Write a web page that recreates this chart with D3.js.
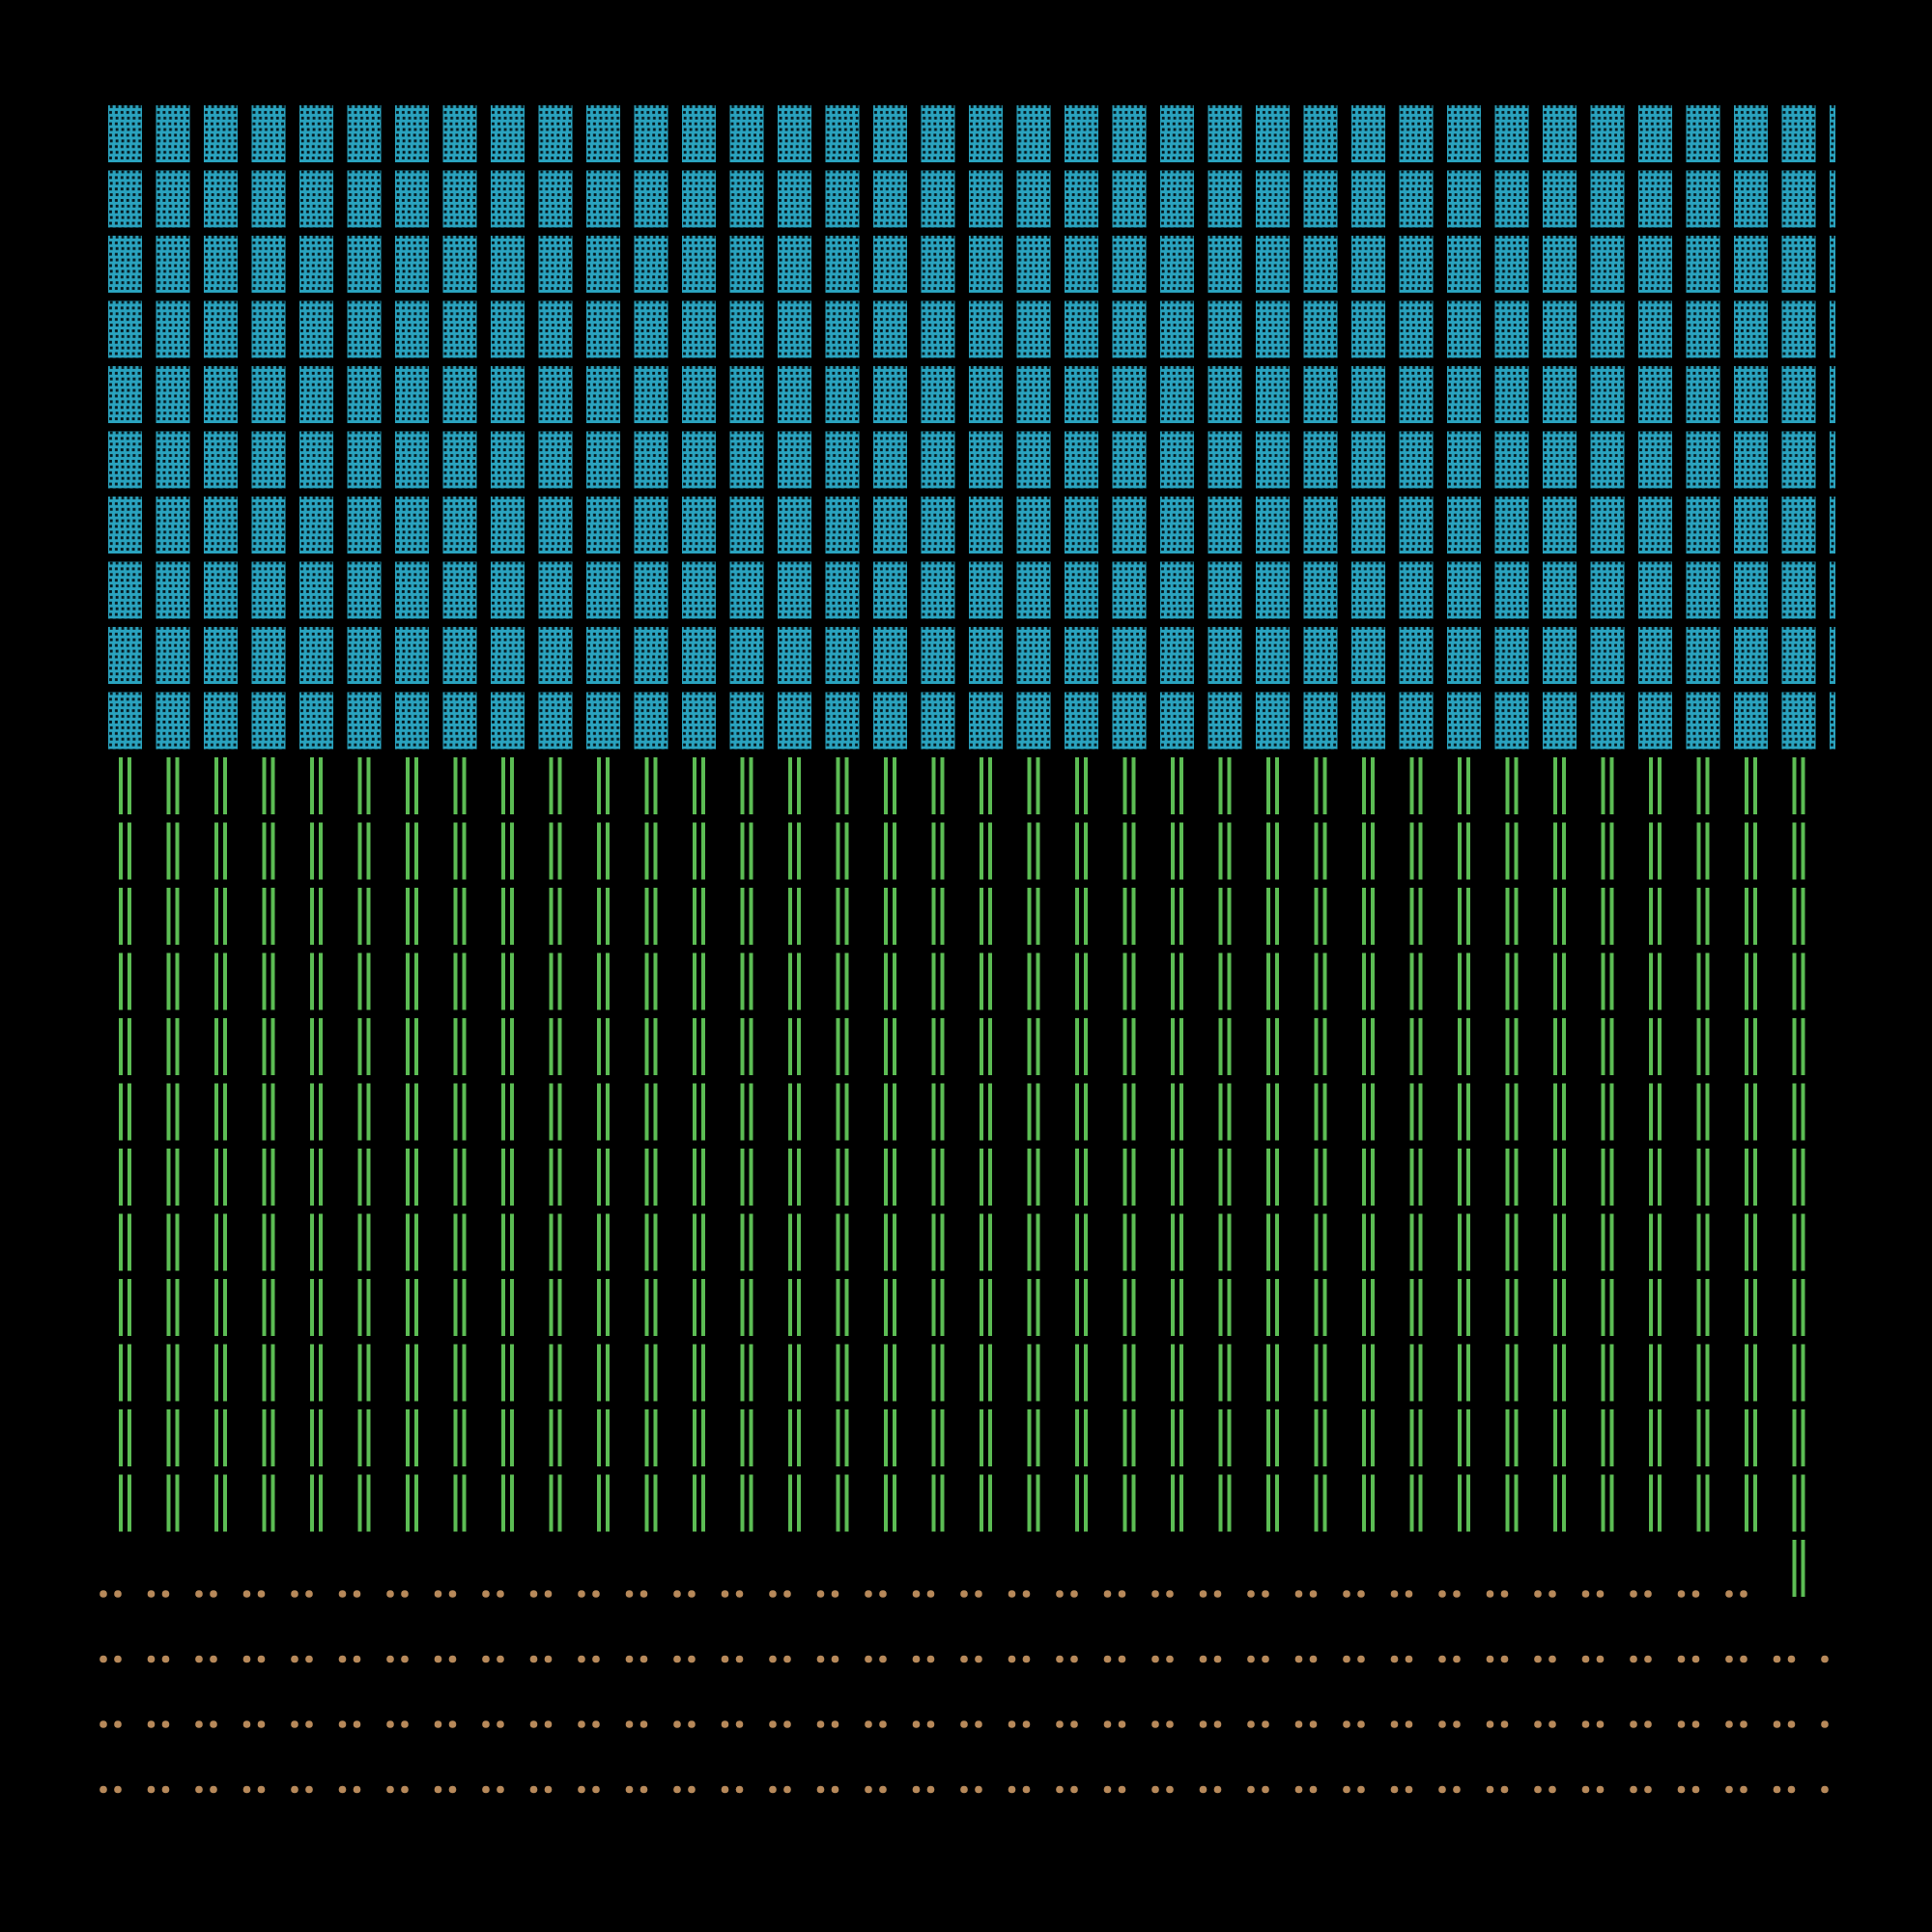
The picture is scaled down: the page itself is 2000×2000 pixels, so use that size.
<!DOCTYPE html>
<html>
<head>
<meta charset="utf-8">
<script src="https://cdn.jsdelivr.net/npm/d3@7"></script>
<style>
  html, body { margin: 0; padding: 0; background: #000; }
  svg { display: block; }
</style>
</head>
<body>
<script>
// ---- data ----
const categories = ["Orange", "Green", "Blue"];   // fill order, from bottom-left, row by row
const values = [146, 446, 370];
const colors = ["#b7895a", "#5cbd54", "#2aa3bf"];
const nCols = 37;
const nRows = 26;

// ---- layout ----
const W = 2000, H = 2000;
const svg = d3.select("body").append("svg").attr("width", W).attr("height", H);
svg.append("rect").attr("width", W).attr("height", H).attr("fill", "#000");

const x = d3.scaleLinear().domain([0, nCols]).range([112, 112 + nCols * 49.5]);
const y = d3.scaleLinear().domain([0, nRows]).range([109, 109 + nRows * 67.5]);
const cellW = 35, cellH = 59;

const defs = svg.append("defs");
defs.append("clipPath").attr("id", "plotClip")
  .append("rect").attr("x", 0).attr("y", 0).attr("width", 1900).attr("height", H);

// perforated pattern for the blue category
const pw = 5.9, ph = 11.8;
const pat = defs.append("pattern").attr("id", "perf")
  .attr("patternUnits", "userSpaceOnUse")
  .attr("width", pw).attr("height", ph);
pat.append("rect").attr("width", pw).attr("height", ph).attr("fill", colors[2]);
pat.append("rect").attr("x", 1.8).attr("y", 0).attr("width", 2.8).attr("height", 2.9).attr("fill", "#04161a");
pat.append("rect").attr("x", 1.1).attr("y", 5.9).attr("width", 2.8).attr("height", 2.9).attr("fill", "#04161a");

// build cells
const cells = [];
let idx = 0;
categories.forEach((c, ci) => {
  for (let k = 0; k < values[ci]; k++) {
    const row = nRows - 1 - Math.floor(idx / nCols);
    const col = idx % nCols;
    cells.push({cat: ci, row, col});
    idx++;
  }
});

const g = svg.append("g").attr("clip-path", "url(#plotClip)");
const cellG = g.selectAll("g.cell").data(cells).join("g")
  .attr("class", "cell")
  .attr("transform", d => `translate(${x(d.col)},${y(d.row)})`);

cellG.each(function(d) {
  const s = d3.select(this);
  if (d.cat === 2) {
    s.append("rect").attr("width", cellW).attr("height", cellH).attr("fill", "url(#perf)");
  } else if (d.cat === 1) {
    [11, 20].forEach(dx => s.append("rect")
      .attr("x", dx).attr("y", 0).attr("width", 4).attr("height", cellH)
      .attr("fill", colors[1]));
  } else {
    [-5, 10].forEach(dx => s.append("circle")
      .attr("cx", dx).attr("cy", 56).attr("r", 3.8)
      .attr("fill", colors[0]));
  }
});
</script>
</body>
</html>
